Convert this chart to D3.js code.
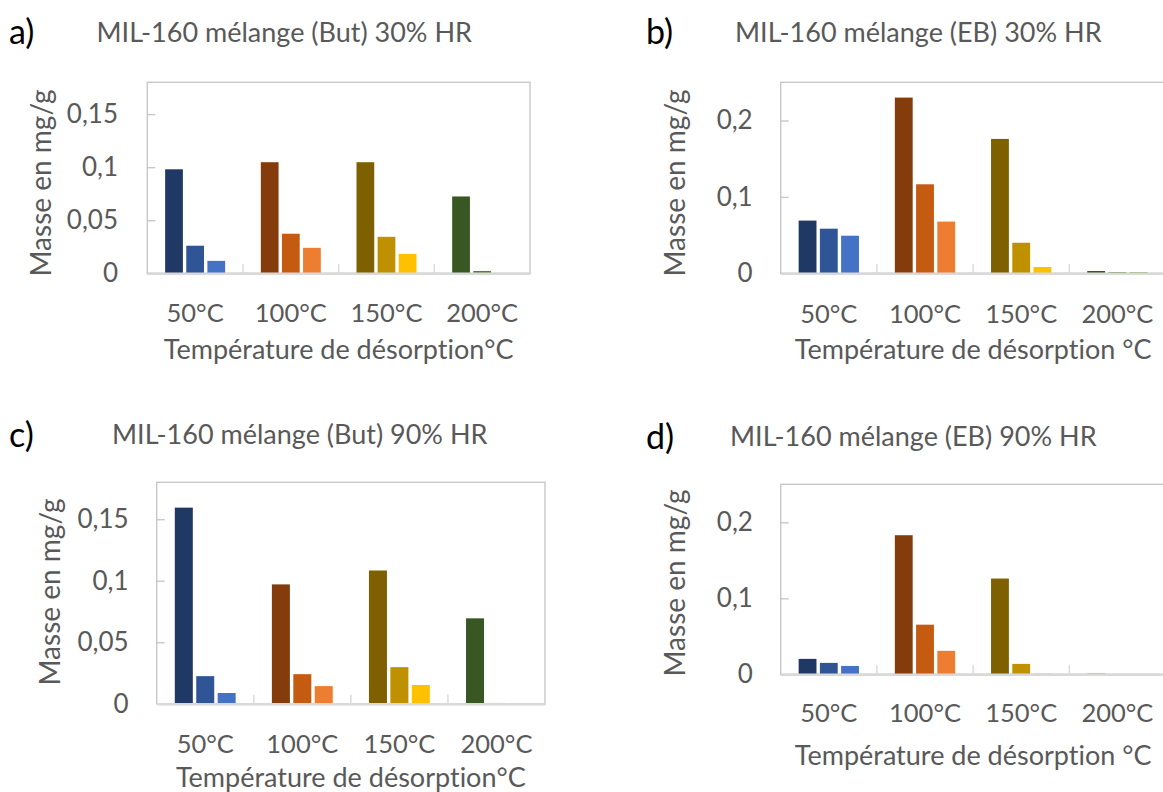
<!DOCTYPE html>
<html>
<head>
<meta charset="utf-8">
<script src="https://cdn.jsdelivr.net/npm/d3@7"></script>
<style>
  html, body { margin: 0; padding: 0; background: #fff; }
  svg { display: block; font-family: Lato, "Open Sans", sans-serif; font-variant-ligatures: none; }
  text { font-variant-ligatures: none; font-feature-settings: "liga" 0; }
</style>
</head>
<body>
<svg id="chart" width="1163" height="792"></svg>
<script>
// ---------- DATA ----------
const categories = ["50°C", "100°C", "150°C", "200°C"];
const seriesIdx = [0, 1, 2];

// values per category: [series1, series2, series3]  (mg/g)
const butane30 = [[0.098, 0.026, 0.0117], [0.1047, 0.0373, 0.024], [0.1047, 0.0344, 0.0183], [0.0724, 0.0022, 0]];
const eb30     = [[0.069, 0.0584, 0.0492], [0.230, 0.1165, 0.0677], [0.1759, 0.040, 0.0083], [0.003, 0.0015, 0.0015]];
const butane90 = [[0.1594, 0.0224, 0.0087], [0.097, 0.024, 0.0143], [0.1083, 0.0297, 0.0152], [0.0694, 0.0006, 0]];
const eb90     = [[0.0203, 0.015, 0.011], [0.183, 0.0653, 0.0309], [0.126, 0.0137, 0.001], [0.0008, 0, 0]];

const ticksBut = [0, 0.05, 0.1, 0.15];
const ticksEB  = [0, 0.1, 0.2];
const maxBut = 0.18;
const maxEB = 0.25;

const titles = ["MIL-160 mélange (But) 30% HR", "MIL-160 mélange (EB) 30% HR",
                "MIL-160 mélange (But) 90% HR", "MIL-160 mélange (EB) 90% HR"];
const letters = ["a)", "b)", "c)", "d)"];
const yTitle = "Masse en mg/g";
const xTitles = ["Température de désorption°C", "Température de désorption °C",
                 "Température de désorption°C", "Température de désorption °C"];

// colour shades per category (dark, medium, base)
const palette = [
  ["#203864", "#2F5597", "#4472C4"],
  ["#843C0C", "#C55A11", "#ED7D31"],
  ["#7F6000", "#BF9000", "#FFC000"],
  ["#385723", "#548235", "#70AD47"]
];

// ---------- LAYOUT ----------
const panels = [
  { data: butane30, ticks: ticksBut, max: maxBut, x0: 147.3, x1: 530, y0: 82.3, y1: 273.3,
    tickRight: 118, yTitleX: 51, yTitleY: 183, xLabY: 322, xTitleY: 359,
    letterX: 9, letterY: 44, titleX: 96.5, titleY: 42 },
  { data: eb30, ticks: ticksEB, max: maxEB, x0: 780.7, x1: 1165.5, y0: 82.3, y1: 273.3,
    tickRight: 752.7, yTitleX: 685, yTitleY: 183, xLabY: 322.7, xTitleY: 359,
    letterX: 646, letterY: 44, titleX: 735, titleY: 42 },
  { data: butane90, ticks: ticksBut, max: maxBut, x0: 156.7, x1: 545, y0: 482.3, y1: 703.7,
    tickRight: 128.6, yTitleX: 60, yTitleY: 592, xLabY: 753.3, xTitleY: 787,
    letterX: 9, letterY: 447, titleX: 112, titleY: 444 },
  { data: eb90, ticks: ticksEB, max: maxEB, x0: 780.7, x1: 1165.5, y0: 484.3, y1: 674.3,
    tickRight: 752.9, yTitleX: 685, yTitleY: 583, xLabY: 722, xTitleY: 765,
    letterX: 646, letterY: 449, titleX: 730, titleY: 446 }
];

const textCol = "#595959";
const fmt = d => String(d).replace(".", ",");

const svg = d3.select("#chart");
svg.append("rect").attr("width", 1163).attr("height", 792).attr("fill", "#fff");

panels.forEach((p, i) => {
  const g = svg.append("g");
  const x = d3.scaleBand().domain(categories).range([p.x0, p.x1]).padding(0);
  const groupW = x.bandwidth() * 0.627;
  const xs = d3.scaleBand().domain(seriesIdx).range([0, groupW]).paddingInner(0.16).paddingOuter(0);
  const off = (x.bandwidth() - groupW) / 2;
  const y = d3.scaleLinear().domain([0, p.max]).range([p.y1, p.y0]);

  // frame
  g.append("rect").attr("x", p.x0).attr("y", p.y0)
    .attr("width", p.x1 - p.x0).attr("height", p.y1 - p.y0)
    .attr("fill", "none").attr("stroke", "#C8C8C8").attr("stroke-width", 1.4);

  // inside y ticks
  const yTickAxis = g.append("g").attr("transform", `translate(${p.x0},0)`)
    .call(d3.axisRight(y).tickValues(p.ticks).tickSize(8).tickFormat(""));
  yTickAxis.select(".domain").remove();
  yTickAxis.selectAll("line").attr("stroke", "#C8C8C8").attr("stroke-width", 1.4);

  // y labels
  const yLab = g.append("g").attr("transform", `translate(${p.tickRight},0)`)
    .call(d3.axisLeft(y).tickValues(p.ticks).tickSize(0).tickPadding(0).tickFormat(fmt));
  yLab.select(".domain").remove();
  yLab.selectAll("text").attr("fill", textCol).style("font-size", "26px")
    .style("font-family", "Lato, sans-serif");

  // category separators (inside, upward)
  g.selectAll(".sep").data(categories.slice(1)).join("line")
    .attr("x1", d => x(d)).attr("x2", d => x(d))
    .attr("y1", p.y1).attr("y2", p.y1 - 9)
    .attr("stroke", "#D9D9D9").attr("stroke-width", 1.4);

  // bars
  categories.forEach((c, ci) => {
    g.selectAll(null).data(p.data[ci].map((v, si) => ({ v, si }))).join("rect")
      .attr("x", d => x(c) + off + xs(d.si))
      .attr("width", xs.bandwidth())
      .attr("y", d => y(d.v))
      .attr("height", d => p.y1 - y(d.v))
      .attr("fill", d => palette[ci][d.si]);
  });

  // bottom axis line
  const xAxis = g.append("g").attr("transform", `translate(0,${p.y1})`)
    .call(d3.axisBottom(x).tickSize(0).tickPadding(0));
  xAxis.select(".domain").attr("stroke", "#D9D9D9").attr("stroke-width", 2.4);
  xAxis.selectAll("text").attr("y", p.xLabY - p.y1).attr("dy", 0)
    .attr("fill", textCol).style("font-size", "25.5px").style("font-family", "Lato, sans-serif");

  // x title
  g.append("text").attr("x", (p.x0 + p.x1) / 2).attr("y", p.xTitleY)
    .attr("text-anchor", "middle").attr("fill", textCol).style("font-size", "27px")
    .text(xTitles[i]);

  // y title
  g.append("text").attr("transform", `translate(${p.yTitleX},${p.yTitleY}) rotate(-90)`)
    .attr("text-anchor", "middle").attr("fill", textCol).style("font-size", "28px")
    .text(yTitle);

  // panel title + letter
  g.append("text").attr("x", p.titleX).attr("y", p.titleY).attr("fill", textCol)
    .style("font-size", "27px").text(titles[i]);
  g.append("text").attr("x", p.letterX).attr("y", p.letterY).attr("fill", "#000")
    .style("font-size", "34px").text(letters[i]);
});
</script>
</body>
</html>
